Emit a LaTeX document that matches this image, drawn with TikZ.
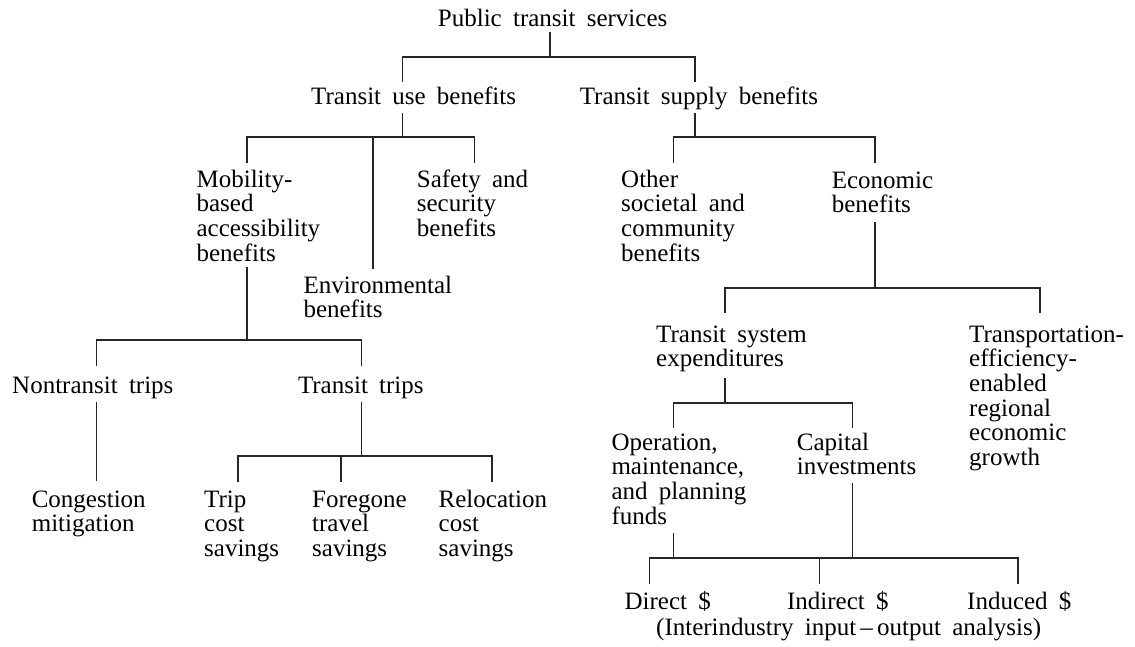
\documentclass[tikz,border=0pt]{standalone}
\usepackage{fontspec}
\setmainfont{Liberation Serif}[WordSpace=1.8]
\begin{document}
\begin{tikzpicture}[x=1pt,y=-1pt,
  lbl/.style={anchor=base west,inner sep=0pt,align=left,text=black,
    font=\fontsize{25}{24.7}\selectfont},
  link/.style={draw=black!85,line width=1.3pt}]
\useasboundingbox[fill=white] (0,0) rectangle (1135,646);
% text nodes (anchored at the baseline of their last line)
\node[lbl] (pts) at (437.7,26) {Public transit services};
\node[lbl] (tub) at (311,104) {Transit use benefits};
\node[lbl] (tsb) at (579.6,104) {Transit supply benefits};
\node[lbl] (mob) at (196.4,261.1) {Mobility-\\based\\accessibility\\benefits};
\node[lbl] (env) at (303.3,317.7) {Environmental\\benefits};
\node[lbl] (saf) at (416.7,236.4) {Safety and\\security\\benefits};
\node[lbl] (oth) at (621,261.1) {Other\\societal and\\community\\benefits};
\node[lbl] (eco) at (831.6,212.7) {Economic\\benefits};
\node[lbl] (non) at (12,393) {Nontransit trips};
\node[lbl] (trt) at (297.8,393) {Transit trips};
\node[lbl] (con) at (31.6,531.7) {Congestion\\mitigation};
\node[lbl] (trip) at (204,556.4) {Trip\\cost\\savings};
\node[lbl] (fgn) at (312,556.4) {Foregone\\travel\\savings};
\node[lbl] (rel) at (438.5,556.4) {Relocation\\cost\\savings};
\node[lbl] (tse) at (656,366.7) {Transit system\\expenditures};
\node[lbl] (tee) at (969,465.5) {Transportation-\\efficiency-\\enabled\\regional\\economic\\growth};
\node[lbl] (opm) at (611.3,524.1) {Operation,\\maintenance,\\and planning\\funds};
\node[lbl] (cap) at (796.7,474.7) {Capital\\investments};
\node[lbl] (dir) at (624.4,609) {Direct \$};
\node[lbl] (ind) at (786.9,609) {Indirect \$};
\node[lbl] (inu) at (967,609) {Induced \$};
\node[lbl] (ana) at (656,635) {(Interindustry input\,–\,output analysis)};
% connector end points
\coordinate (pts-o) at (550,32);
\coordinate (tub-i) at (402.5,82);  \coordinate (tsb-i) at (695,82);
\coordinate (tub-o) at (402.5,113); \coordinate (tsb-o) at (695,113);
\coordinate (mob-i) at (247,163);   \coordinate (env-i) at (373,269);
\coordinate (saf-i) at (474.5,163);
\coordinate (oth-i) at (673.5,163); \coordinate (eco-i) at (875,163);
\coordinate (mob-o) at (247,267);
\coordinate (non-i) at (96.5,366);  \coordinate (trt-i) at (361.5,366);
\coordinate (non-o) at (96.5,402);  \coordinate (con-i) at (96.5,481);
\coordinate (trt-o) at (361.5,402);
\coordinate (trip-i) at (238,482);  \coordinate (fgn-i) at (341,482);
\coordinate (rel-i) at (492,482);
\coordinate (eco-o) at (875,222);
\coordinate (tse-i) at (725,313);   \coordinate (tee-i) at (1040,313);
\coordinate (tse-o) at (725,378);
\coordinate (opm-i) at (673.5,428); \coordinate (cap-i) at (852.4,428);
\coordinate (opm-o) at (673.5,533); \coordinate (cap-o) at (852.4,483);
\coordinate (dir-i) at (649.5,584); \coordinate (ind-i) at (819.6,584);
\coordinate (inu-i) at (1018,584);
% connectors
\draw[link] (pts-o) -- ++(0,25);
\draw[link] (tub-i) -- ++(0,-25) -| (tsb-i);
\draw[link] (tub-o) -- ++(0,24);
\draw[link] (mob-i) -- ++(0,-26) -| (saf-i);
\draw[link] (env-i) -- ++(0,-132);
\draw[link] (tsb-o) -- ++(0,24);
\draw[link] (oth-i) -- ++(0,-26) -| (eco-i);
\draw[link] (mob-o) -- ++(0,73);
\draw[link] (non-i) -- ++(0,-26) -| (trt-i);
\draw[link] (non-o) -- (con-i);
\draw[link] (trt-o) -- ++(0,54);
\draw[link] (trip-i) -- ++(0,-26) -| (rel-i);
\draw[link] (fgn-i) -- ++(0,-26);
\draw[link] (eco-o) -- ++(0,66);
\draw[link] (tse-i) -- ++(0,-25) -| (tee-i);
\draw[link] (tse-o) -- ++(0,25);
\draw[link] (opm-i) -- ++(0,-25) -| (cap-i);
\draw[link] (opm-o) -- ++(0,25);
\draw[link] (cap-o) -- ++(0,75);
\draw[link] (dir-i) -- ++(0,-26) -| (inu-i);
\draw[link] (ind-i) -- ++(0,-26);
\end{tikzpicture}
\end{document}
